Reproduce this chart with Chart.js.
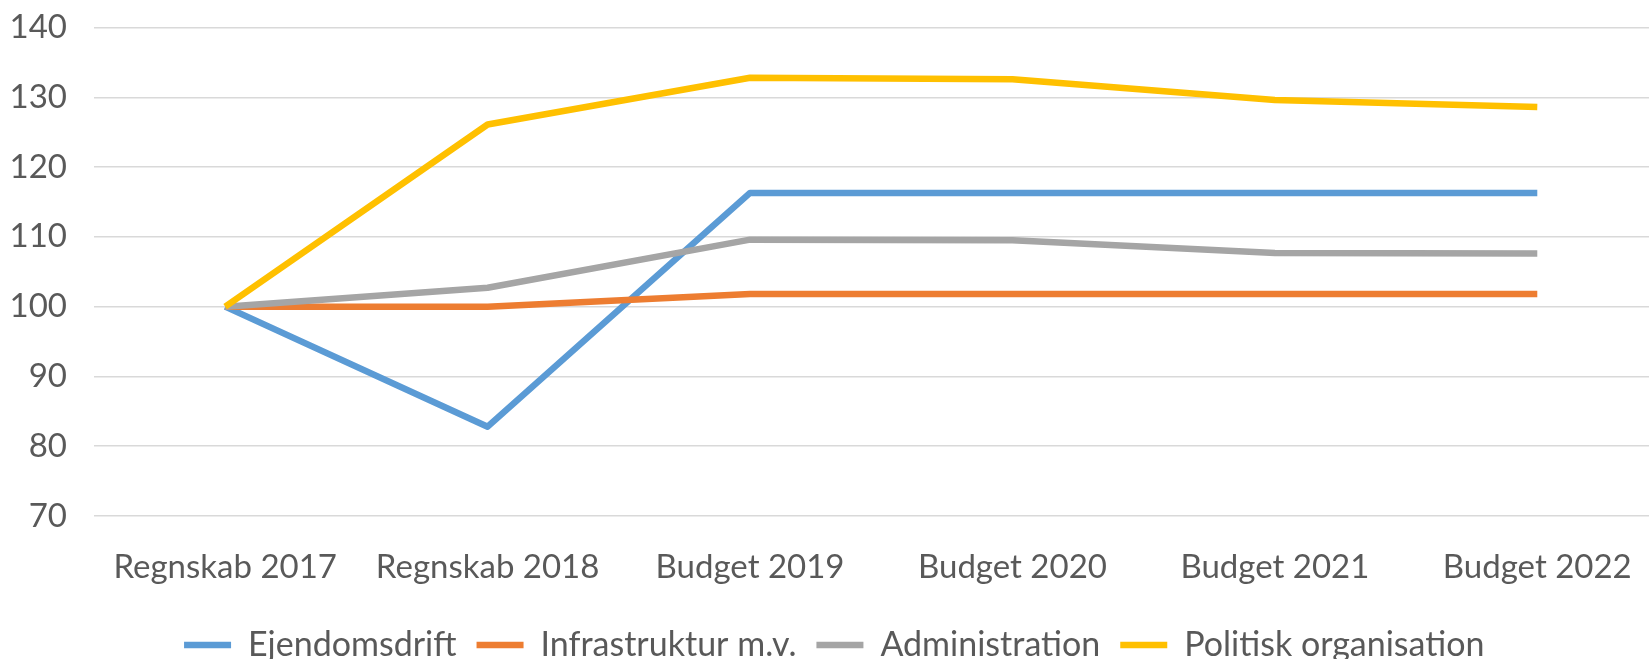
<!DOCTYPE html>
<html>
<head>
<meta charset="utf-8">
<script src="https://cdn.jsdelivr.net/npm/chart.js@4.4.1/dist/chart.umd.min.js"></script>
<style>
  html, body { margin: 0; padding: 0; background: #ffffff; overflow: hidden; }
  #wrap { width: 1676px; height: 672px; position: relative; }
</style>
</head>
<body>
<div id="wrap"><canvas id="c" width="1676" height="672"></canvas></div>
<script>
const categories = ["Regnskab 2017", "Regnskab 2018", "Budget 2019", "Budget 2020", "Budget 2021", "Budget 2022"];
const ejendomsdrift = [100, 82.8, 116.3, 116.3, 116.3, 116.3];
const infrastruktur = [100, 100, 101.8, 101.8, 101.8, 101.8];
const administration = [100, 102.7, 109.6, 109.5, 107.7, 107.6];
const politisk = [100, 126.1, 132.8, 132.6, 129.6, 128.6];
const seriesNames = ["Ejendomsdrift", "Infrastruktur m.v.", "Administration", "Politisk organisation"];
const yTicks = [70, 80, 90, 100, 110, 120, 130, 140];

const colors = ["#5B9BD5", "#ED7D31", "#A5A5A5", "#FFC000"];
const seriesData = [ejendomsdrift, infrastruktur, administration, politisk];

const datasets = seriesData.map((d, i) => ({
  label: seriesNames[i],
  data: d,
  borderColor: colors[i],
  backgroundColor: colors[i],
  borderWidth: 6.5,
  pointRadius: 0,
  pointHoverRadius: 0,
  pointStyle: 'line',
  tension: 0,
  fill: false,
  borderCapStyle: 'butt',
  borderJoinStyle: 'round',
  order: 4 - i
}));

const FONT = { family: "Lato, 'Open Sans', sans-serif", size: 33 };
const LEGEND_FONT = { family: "Lato, 'Open Sans', sans-serif", size: 34 };

new Chart(document.getElementById('c'), {
  type: 'line',
  data: { labels: categories, datasets },
  options: {
    responsive: false,
    animation: false,
    devicePixelRatio: 1,
    layout: { padding: { top: 27.5, right: 7.5, left: 0, bottom: 0 } },
    plugins: {
      tooltip: { enabled: false },
      legend: {
        position: 'bottom',
        labels: {
          font: LEGEND_FONT,
          color: '#595959',
          usePointStyle: true,
          pointStyleWidth: 47,
          padding: 20,
          sort: (a, b) => a.datasetIndex - b.datasetIndex
        }
      }
    },
    scales: {
      x: {
        type: 'category',
        offset: true,
        grid: { display: false, drawTicks: false },
        border: { display: false },
        ticks: { font: FONT, color: '#595959', padding: 32, maxRotation: 0, autoSkip: false },
        afterFit: (s) => { s.height = 92; }
      },
      y: {
        min: 70,
        max: 140,
        afterBuildTicks: (s) => { s.ticks = yTicks.map(v => ({ value: v })); },
        grid: { color: '#D9D9D9', lineWidth: 1.5, drawTicks: false },
        border: { display: false },
        ticks: { font: FONT, color: '#595959', padding: 27 },
        afterFit: (s) => { s.width = 94; s.paddingTop = 0; s.paddingBottom = 0; }
      }
    }
  }
});
</script>
</body>
</html>
